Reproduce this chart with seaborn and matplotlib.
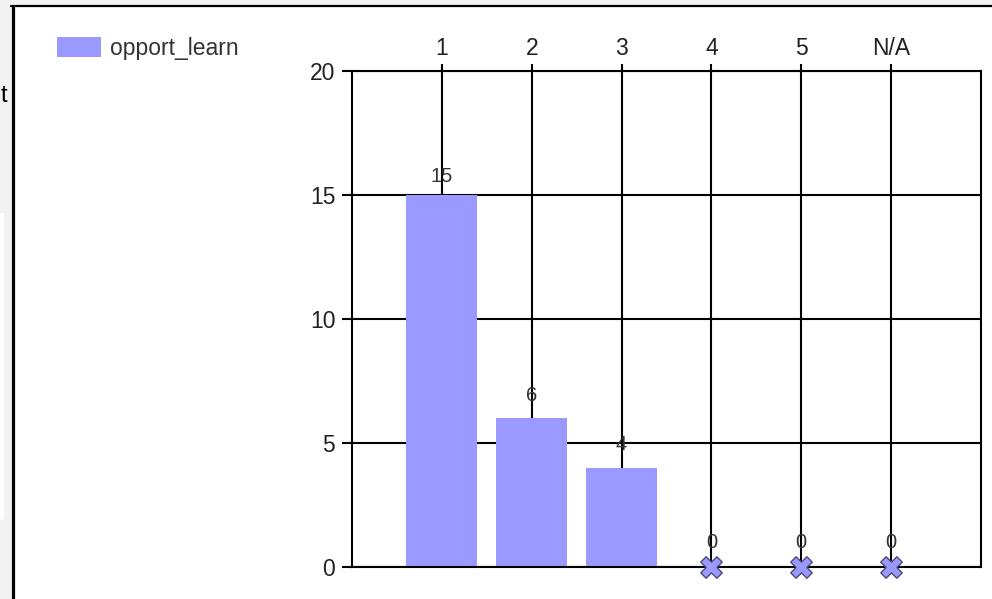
import matplotlib
matplotlib.use("Agg")
import matplotlib.pyplot as plt
from matplotlib.patches import Rectangle, Patch
from matplotlib.lines import Line2D
import seaborn as sns
import pandas as pd

# Response counts per rating for the "opport_learn" question
categories = ["1", "2", "3", "4", "5", "N/A"]
counts = [15, 6, 4, 0, 0, 0]
series_name = "opport_learn"
y_ticks = [0, 5, 10, 15, 20]

BAR_COLOR = "#9999ff"
TEXT_COLOR = "#222222"
W, H = 992, 599

sns.set_theme(style="white")
plt.rcParams["font.family"] = ["Liberation Sans", "DejaVu Sans"]

fig = plt.figure(figsize=(W / 100, H / 100), dpi=100)
fig.patch.set_facecolor("#f2f2f2")

# white page panel with its dark frame on the left and top edges
fig.add_artist(Rectangle((13 / W, 0), 1, 1 - 6 / H, transform=fig.transFigure,
                         facecolor="white", edgecolor="none", zorder=0))
fig.add_artist(Rectangle((0, 1 - 519 / H), 4 / W, (519 - 213) / H,
                         transform=fig.transFigure, facecolor="white",
                         edgecolor="none", zorder=0))
fig.add_artist(Line2D([12.5 / W, 12.5 / W], [0, 1 - 5.5 / H], transform=fig.transFigure,
                      color="black", lw=2.3, zorder=1))
fig.add_artist(Line2D([11 / W, 1], [1 - 5.5 / H, 1 - 5.5 / H], transform=fig.transFigure,
                      color="black", lw=1.6, zorder=1))
fig.text(7 / W, 1 - 96 / H, "t", ha="right", va="center", fontsize=17, color="black")

ax = fig.add_axes([352 / W, 1 - 567 / H, (981 - 352) / W, (567 - 71) / H])

df = pd.DataFrame({"rating": categories, "count": counts})
sns.barplot(data=df, x="rating", y="count", order=categories, color=BAR_COLOR,
            saturation=1, width=0.79, linewidth=0, edgecolor="none", ax=ax, zorder=2)

# zero-count categories get a cross marker on the baseline
zero_pos = [i for i, v in enumerate(counts) if v == 0]
zero_val = [counts[i] for i in zero_pos]
sns.scatterplot(x=zero_pos, y=zero_val, marker="X", s=240, color=BAR_COLOR,
                edgecolor="#4b4b78", linewidth=1.0, ax=ax, zorder=5,
                clip_on=False, legend=False)

# value labels, sitting slightly higher above the shorter bars
for i, v in enumerate(counts):
    off_px = 15.5 - 0.45 * v
    ax.annotate(str(v), (i, v), xytext=(0, off_px * 0.72), textcoords="offset points",
                ha="center", va="bottom", fontsize=14.5, color="#333333", zorder=6)

ax.set_xlim(-1, len(categories))
ax.set_ylim(0, 20)
ax.set_yticks(y_ticks)
ax.set_xticks(range(len(categories)))
ax.set_xticklabels(categories)
ax.set_xlabel("")
ax.set_ylabel("")

ax.xaxis.tick_top()
ax.tick_params(axis="x", top=True, bottom=False, length=5, width=1.5, pad=3,
               labelsize=16.5, labelcolor=TEXT_COLOR, color="black")
ax.tick_params(axis="y", left=True, length=7, width=1.5, pad=5,
               labelsize=16.5, labelcolor=TEXT_COLOR, color="black")

ax.grid(True, color="black", lw=1.5)
ax.set_axisbelow(True)
for s in ax.spines.values():
    s.set_visible(True)
    s.set_color("black")
    s.set_linewidth(1.5)

fig.legend(handles=[Patch(facecolor=BAR_COLOR, edgecolor="none", label=series_name)],
           loc="upper left", bbox_to_anchor=(52 / W, 1 - 32 / H), frameon=False,
           fontsize=16.5, labelcolor="#333333", handlelength=1.95, handleheight=0.95,
           handletextpad=0.4, borderpad=0.2, borderaxespad=0)

fig.savefig("out.png", dpi=100, facecolor=fig.get_facecolor())
